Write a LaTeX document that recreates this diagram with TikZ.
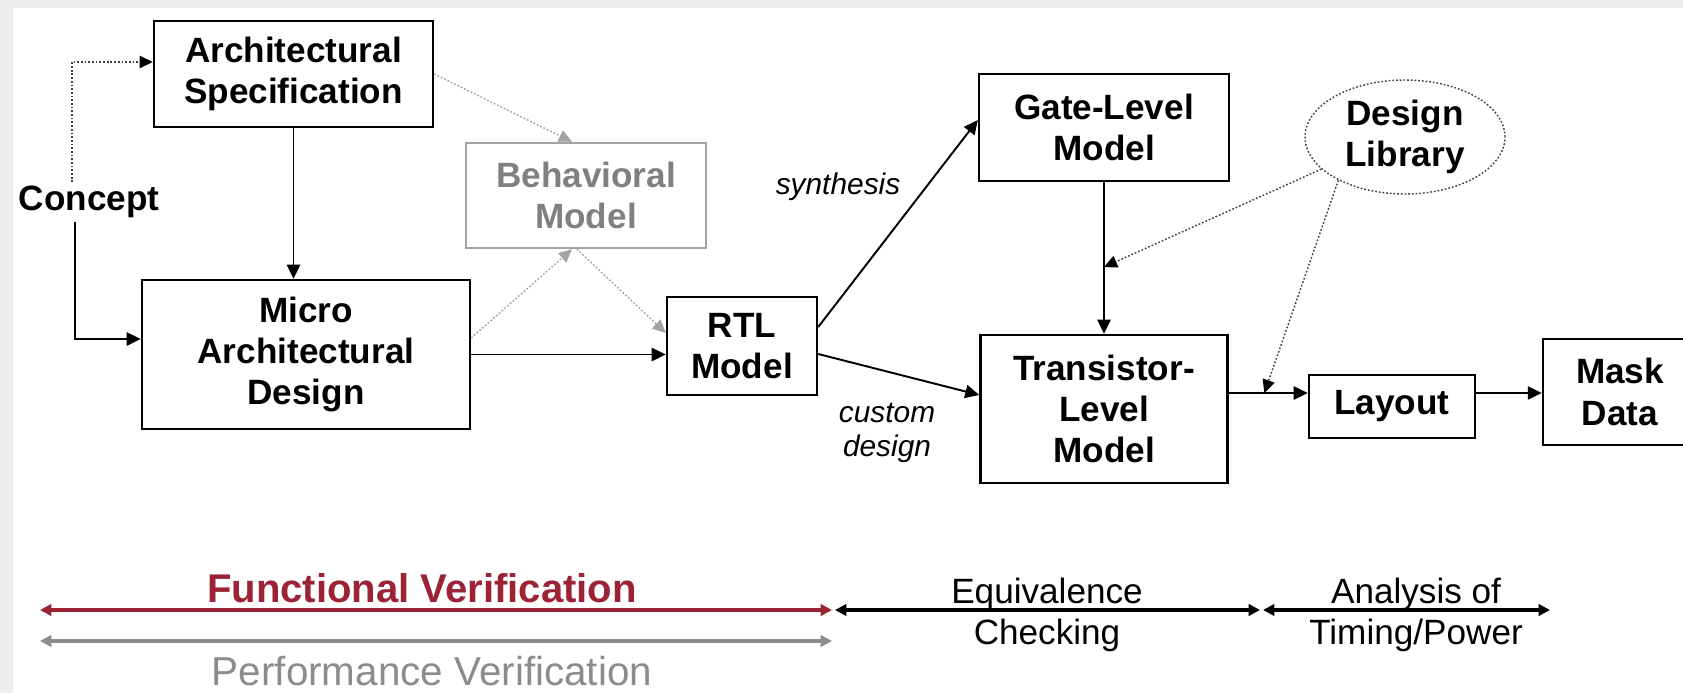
\documentclass[tikz,border=0pt]{standalone}
\usepackage{fontspec}
\setmainfont{Liberation Sans}
\usetikzlibrary{arrows.meta, shapes.geometric, calc}

\definecolor{verired}{HTML}{9B2335}
\definecolor{perfgray}{HTML}{8C8C8C}
\definecolor{behavgray}{HTML}{A3A3A3}
\definecolor{screengray}{HTML}{EEEEEE}

\begin{document}
\begin{tikzpicture}[x=0.02cm, y=-0.02cm,
    block/.style={draw, line width=1.4pt, align=center, inner sep=0pt,
      font=\bfseries\fontsize{20}{23.5}\selectfont},
    flow/.style={line width=1.1pt, -{Triangle[length=8pt, width=7.5pt]}},
    hint/.style={black!75, line width=0.8pt, dash pattern=on 1pt off 1.1pt,
      -{Triangle[length=7.5pt, width=7pt, fill=black, color=black]}},
    greyhint/.style={behavgray, line width=0.8pt, dash pattern=on 1pt off 1.1pt,
      -{Triangle[length=7.5pt, width=7pt]}},
    span/.style={line width=2.2pt,
      {Triangle[length=6.5pt, width=6.5pt]}-{Triangle[length=6.5pt, width=6.5pt]}},
    note/.style={font=\itshape\fontsize{17}{19.8}\selectfont, align=center}]

  \useasboundingbox (0,0) rectangle (1683,693);
  \fill[screengray] (0,0) rectangle (1683,693);
  \fill[white] (13,8) rectangle (1683,693);

  % design steps
  \node[block, minimum width=5.58cm, minimum height=2.12cm] (spec) at (293.5,74) {Architectural\\Specification};
  \node[block, minimum width=6.56cm, minimum height=2.98cm] (micro) at (306,354.5) {Micro\\Architectural\\Design};
  \node[block, draw=behavgray, text=black!50, minimum width=4.8cm, minimum height=2.1cm] (behav) at (586,195.5) {Behavioral\\Model};
  \node[block, minimum width=3cm, minimum height=1.96cm] (rtl) at (742,346) {RTL\\Model};
  \node[block, minimum width=5cm, minimum height=2.14cm] (gate) at (1104,127.5) {Gate-Level\\Model};
  \node[block, minimum width=4.94cm, minimum height=2.96cm] (trans) at (1104,409) {Transistor-\\Level\\Model};
  \node[block, minimum width=3.32cm, minimum height=1.26cm] (layout) at (1392,406.5) {Layout};
  \node[block, minimum width=3.08cm, minimum height=2.12cm] (mask) at (1620,392) {Mask\\Data};
  \node[ellipse, draw=black!75, line width=0.8pt, dash pattern=on 1pt off 1.1pt, inner sep=0pt,
    minimum width=4cm, minimum height=2.28cm, align=center,
    font=\bfseries\fontsize{20}{23.5}\selectfont] (lib) at (1405,137) {Design\\Library};
  \node[inner sep=2pt, font=\bfseries\fontsize{20}{24}\selectfont] (concept) at (89,202) {Concept};

  \node[note] (synth) at (838,187) {synthesis};
  \node[note] (custom) at (887,433) {custom\\design};

  % connectors
  \draw[hint] ([xshift=-0.34cm]concept.north) |- ([yshift=0.24cm]spec.west);
  \draw[flow] ([xshift=-0.28cm]concept.south) |- ([yshift=0.31cm]micro.west);
  \draw[flow] (spec.south) -- (spec.south |- micro.north);
  \draw[flow] (micro.east) -- (micro.east -| rtl.west);
  \draw[greyhint] (spec.east) -- ([xshift=-0.28cm]behav.north);
  \draw[greyhint] ([yshift=0.33cm]micro.east) -- ([xshift=-0.28cm]behav.south);
  \draw[greyhint] ([xshift=-0.18cm]behav.south) -- ([yshift=0.26cm]rtl.west);
  \draw[flow] ([yshift=0.38cm]rtl.east) -- ([yshift=0.15cm]gate.west);
  \draw[flow] ([yshift=-0.16cm]rtl.east) -- ([yshift=0.28cm]trans.west);
  \draw[flow] (gate.south) -- (trans.north);
  \coordinate (tl) at ([yshift=0.27cm]layout.west);
  \draw[flow] (trans.east |- tl) -- (tl);
  \draw[flow] ([yshift=0.27cm]layout.east) -- ([yshift=0.27cm]layout.east -| mask.west);
  \draw[hint] (lib.201) -- ($(gate.south)!0.56!(trans.north)$);
  \draw[hint] (lib.213) -- ($(trans.east |- tl)!0.45!(tl)$);

  % verification spans
  \coordinate (fl) at (40,610);
  \coordinate (fr) at (832,610);
  \coordinate (pl) at (40,641);
  \coordinate (pr) at (832,641);
  \coordinate (el) at (835,610);
  \coordinate (er) at (1260,610);
  \coordinate (al) at (1263,610);
  \coordinate (ar) at (1550,610);
  \draw[span, verired] (fl) -- (fr);
  \draw[span, perfgray] (pl) -- (pr);
  \draw[span] (el) -- (er);
  \draw[span] (al) -- (ar);

  \node[anchor=base, text=verired, font=\bfseries\fontsize{22.8}{26}\selectfont] (func) at (422,602) {Functional Verification};
  \node[anchor=base, inner sep=0pt, text=perfgray, font=\fontsize{23}{26}\selectfont] (perf) at (432,685) {Performance Verification};
  \node[align=center, font=\fontsize{20}{23.5}\selectfont] (equiv) at (1047,615) {Equivalence\\Checking};
  \node[align=center, font=\fontsize{20}{23.5}\selectfont] (timing) at (1416,615) {Analysis of\\Timing/Power};
\end{tikzpicture}
\end{document}
